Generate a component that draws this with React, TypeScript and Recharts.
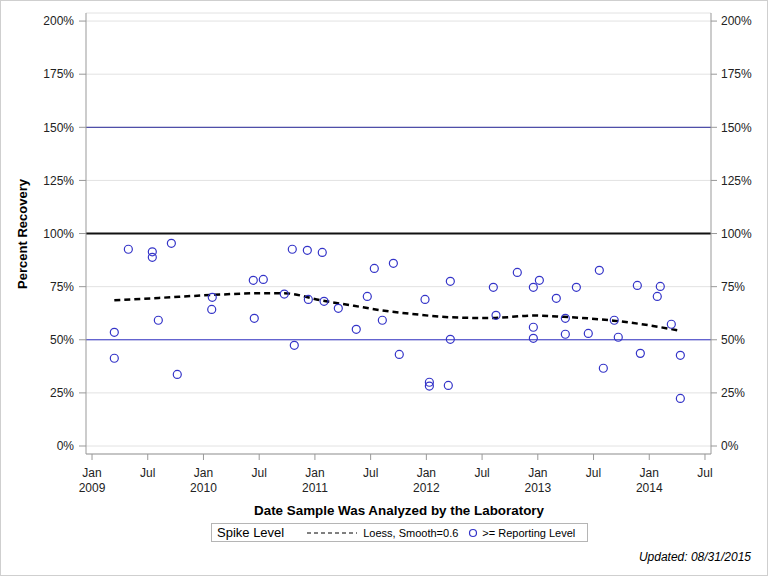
import React from "react";
import {
  ComposedChart,
  Scatter,
  Line,
  XAxis,
  YAxis,
  CartesianGrid,
  ReferenceLine,
} from "recharts";

// Sample analysis dates (decimal years) and percent recovery
const sampleDates = [
  2009.2, 2009.2, 2009.326, 2009.541, 2009.541, 2009.595, 2009.712, 2009.765,
  2010.074, 2010.079, 2010.447, 2010.456, 2010.537, 2010.725, 2010.797, 2010.815,
  2010.932, 2010.941, 2011.066, 2011.082, 2011.21, 2011.371, 2011.47, 2011.533,
  2011.605, 2011.704, 2011.757, 2011.988, 2012.027, 2012.027, 2012.197, 2012.215,
  2012.215, 2012.601, 2012.625, 2012.816, 2012.96, 2012.96, 2012.96, 2013.014,
  2013.166, 2013.247, 2013.247, 2013.346, 2013.453, 2013.552, 2013.588, 2013.686,
  2013.722, 2013.893, 2013.92, 2014.072, 2014.099, 2014.198, 2014.279, 2014.279,
];
const recovery = [
  53.5, 41.3, 92.6, 91.4, 88.8, 59.2, 95.4, 33.7,
  64.3, 70.0, 78.0, 60.1, 78.4, 71.5, 92.6, 47.4,
  92.1, 69.0, 91.1, 68.1, 64.8, 54.9, 70.4, 83.6,
  59.2, 86.0, 43.1, 69.0, 30.0, 28.2, 28.5, 77.5,
  50.2, 74.7, 61.5, 81.7, 74.7, 55.9, 50.7, 78.0,
  69.5, 60.1, 52.6, 74.7, 53.0, 82.7, 36.6, 59.2,
  51.2, 75.6, 43.6, 70.4, 75.1, 57.3, 42.7, 22.4,
];

// Loess fit (smooth=0.6)
const loessDates = [
  2009.2, 2009.6, 2010.08, 2010.5, 2010.72, 2011.07, 2011.35, 2011.58, 2011.9,
  2012.21, 2012.57, 2012.96, 2013.23, 2013.47, 2013.68, 2014.0, 2014.27,
];
const loessValues = [
  68.6, 69.7, 71.1, 71.9, 71.9, 68.4, 66.0, 64.0, 62.0,
  60.6, 60.2, 61.4, 60.8, 60.0, 59.0, 56.8, 54.3,
];

const xTicks = [2009, 2009.5, 2010, 2010.5, 2011, 2011.5, 2012, 2012.5, 2013, 2013.5, 2014, 2014.5];
const yTicks = [0, 25, 50, 75, 100, 125, 150, 175, 200];

const scatterData = sampleDates.map((x, i) => ({ x, y: recovery[i] }));
const loessData = loessDates.map((x, i) => ({ x, y: loessValues[i] }));

const FONT = "'Liberation Sans', Arial, sans-serif";
const BLUE = "#3434c8";

const XTick = (props: any) => {
  const { x, y, payload } = props;
  const v = payload.value as number;
  const isJan = Math.abs(v - Math.round(v)) < 1e-6;
  return (
    <g transform={`translate(${x},${y})`}>
      <text textAnchor="middle" fontSize={12} fill="#222" fontFamily={FONT}>
        <tspan x={0} dy={15}>{isJan ? "Jan" : "Jul"}</tspan>
        {isJan && (
          <tspan x={0} dy={15}>
            {Math.round(v)}
          </tspan>
        )}
      </text>
    </g>
  );
};

const Marker = (props: any) => {
  const { cx, cy } = props;
  return <circle cx={cx} cy={cy} r={4} fill="none" stroke={BLUE} strokeWidth={1.2} />;
};

export default function App() {
  return (
    <div
      style={{
        position: "absolute",
        left: 0,
        top: 0,
        width: 766,
        height: 574,
        border: "1px solid #cfcfcf",
        background: "#fff",
        fontFamily: FONT,
      }}
    >
      <div style={{ position: "absolute", left: -1, top: -1 }}>
        <ComposedChart
          width={768}
          height={576}
          margin={{ top: 13, right: 0, bottom: 82, left: 0 }}
        >
          <CartesianGrid
            xAxisId="bottom"
            yAxisId="left"
            vertical={false}
            stroke="#e2e2e2"
          />
          <XAxis
            xAxisId="bottom"
            dataKey="x"
            type="number"
            domain={[2008.946, 2014.554]}
            ticks={xTicks}
            allowDataOverflow
            height={40}
            tick={<XTick />}
            tickLine={{ stroke: "#999" }}
            axisLine={{ stroke: "#999" }}
            tickSize={6}
          />
          <XAxis
            xAxisId="top"
            orientation="top"
            dataKey="x"
            type="number"
            domain={[2008.946, 2014.554]}
            height={0}
            tick={false}
            tickLine={false}
            axisLine={{ stroke: "#999" }}
          />
          <YAxis
            yAxisId="left"
            type="number"
            domain={[-3.76, 203.8]}
            ticks={yTicks}
            allowDataOverflow
            width={86}
            tickFormatter={(v: number) => `${v}%`}
            tick={{ fontSize: 12, fill: "#222", fontFamily: FONT }}
            tickLine={{ stroke: "#999" }}
            axisLine={{ stroke: "#999" }}
            tickSize={7}
            tickMargin={5}
          />
          <YAxis
            yAxisId="right"
            orientation="right"
            type="number"
            domain={[-3.76, 203.8]}
            ticks={yTicks}
            allowDataOverflow
            width={57}
            tickFormatter={(v: number) => `${v}%`}
            tick={{ fontSize: 12, fill: "#222", fontFamily: FONT, textAnchor: "start" }}
            tickLine={{ stroke: "#999" }}
            axisLine={{ stroke: "#999" }}
            tickSize={6}
            tickMargin={4}
          />
          <ReferenceLine yAxisId="left" xAxisId="bottom" y={150} stroke="#2a2a9a" strokeWidth={1} />
          <ReferenceLine yAxisId="left" xAxisId="bottom" y={50} stroke={BLUE} strokeWidth={1} />
          <ReferenceLine yAxisId="left" xAxisId="bottom" y={100} stroke="#111" strokeWidth={2} />
          <Line
            xAxisId="bottom"
            yAxisId="left"
            data={loessData}
            dataKey="y"
            type="monotone"
            stroke="#000"
            strokeWidth={2.5}
            strokeDasharray="6 4"
            dot={false}
            activeDot={false}
            isAnimationActive={false}
          />
          <Scatter
            xAxisId="bottom"
            yAxisId="left"
            data={scatterData}
            dataKey="y"
            shape={<Marker />}
            isAnimationActive={false}
          />
        </ComposedChart>
      </div>

      {/* Y axis title */}
      <div
        style={{
          position: "absolute",
          left: 21,
          top: 233,
          transform: "translate(-50%, -50%) rotate(-90deg)",
          whiteSpace: "nowrap",
          fontSize: 13,
          fontWeight: "bold",
          color: "#000",
        }}
      >
        Percent Recovery
      </div>

      {/* X axis title */}
      <div
        style={{
          position: "absolute",
          left: 398,
          top: 509,
          transform: "translate(-50%, -50%)",
          whiteSpace: "nowrap",
          fontSize: 13.4,
          fontWeight: "bold",
          color: "#000",
        }}
      >
        Date Sample Was Analyzed by the Laboratory
      </div>

      {/* Legend */}
      <div
        style={{
          position: "absolute",
          left: 210,
          top: 522,
          width: 375,
          height: 17,
          border: "1px solid #b5b5b5",
          display: "flex",
          alignItems: "center",
          whiteSpace: "nowrap",
          color: "#000",
        }}
      >
        <span style={{ fontSize: 13, marginLeft: 5 }}>Spike Level</span>
        <svg width={52} height={10} style={{ marginLeft: 22 }}>
          <line x1={1} y1={5} x2={51} y2={5} stroke="#000" strokeWidth={1} strokeDasharray="4 3" />
        </svg>
        <span style={{ fontSize: 11, marginLeft: 5 }}>Loess, Smooth=0.6</span>
        <svg width={10} height={10} style={{ marginLeft: 10 }}>
          <circle cx={5} cy={5} r={3.5} fill="none" stroke={BLUE} strokeWidth={1.2} />
        </svg>
        <span style={{ fontSize: 11, marginLeft: 4 }}>&gt;= Reporting Level</span>
      </div>

      {/* Footnote */}
      <div
        style={{
          position: "absolute",
          right: 16,
          top: 549,
          fontSize: 12,
          fontStyle: "italic",
          color: "#000",
          whiteSpace: "nowrap",
        }}
      >
        Updated: 08/31/2015
      </div>
    </div>
  );
}
